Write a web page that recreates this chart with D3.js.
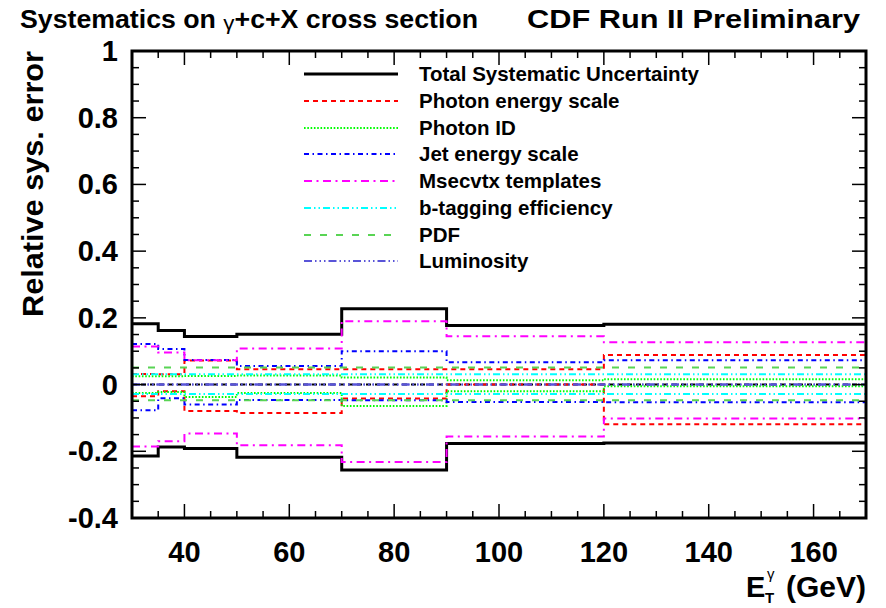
<!DOCTYPE html>
<html><head><meta charset="utf-8">
<script src="https://cdn.jsdelivr.net/npm/d3@7"></script>
<style>body{margin:0;background:#fff}svg{display:block}</style>
</head><body>
<script>
// ---------- data ----------
const binEdges = [30, 35, 40, 50, 70, 90, 120, 170];
const totalUp   = [0.182, 0.162, 0.144, 0.151, 0.227, 0.177, 0.181];
const totalDown = [-0.214, -0.187, -0.192, -0.218, -0.256, -0.177, -0.175];
const energyUp   = [0.032, 0.031, 0.072, 0.046, 0.046, 0.046, 0.089];
const energyDown = [-0.035, -0.020, -0.079, -0.085, -0.042, 0.0, -0.119];
const photonIdUp   = [0.025, 0.025, 0.026, 0.027, 0.021, 0.013, 0.016];
const photonIdDown = [-0.025, -0.022, -0.037, -0.025, -0.064, -0.020, -0.005];
const jetUp   = [0.122, 0.107, 0.074, 0.056, 0.100, 0.067, 0.073];
const jetDown = [-0.077, -0.041, -0.060, -0.046, -0.047, -0.052, -0.053];
const msecUp   = [0.114, 0.096, 0.073, 0.108, 0.190, 0.145, 0.127];
const msecDown = [-0.186, -0.170, -0.147, -0.182, -0.232, -0.156, -0.102];
const btagUp   = [0.031, 0.031, 0.031, 0.031, 0.031, 0.031, 0.031];
const btagDown = [-0.028, -0.028, -0.028, -0.028, -0.028, -0.028, -0.028];
const pdfUp   = [0.051, 0.051, 0.051, 0.051, 0.051, 0.051, 0.051];
const pdfDown = [-0.047, -0.047, -0.047, -0.047, -0.047, -0.047, -0.047];
const lumiUp   = [0, 0, 0, 0, 0, 0, 0];
const lumiDown = [0, 0, 0, 0, 0, 0, 0];
const legendLabels = ["Total Systematic Uncertainty", "Photon energy scale", "Photon ID",
  "Jet energy scale", "Msecvtx templates", "b-tagging efficiency", "PDF", "Luminosity"];
const xTickLabels = [40, 60, 80, 100, 120, 140, 160];
const yTickLabels = [-0.4, -0.2, 0, 0.2, 0.4, 0.6, 0.8, 1];

// ---------- styles ----------
const styles = [
  {up: totalUp, down: totalDown, color: "#000000", dash: null, w: 3},
  {up: energyUp, down: energyDown, color: "#ff0000", dash: "5,4", w: 2},
  {up: photonIdUp, down: photonIdDown, color: "#00ff00", dash: "1.6,1.7", w: 2},
  {up: jetUp, down: jetDown, color: "#0000ff", dash: "5,3.5,1.5,3.5", w: 2},
  {up: msecUp, down: msecDown, color: "#ff00ff", dash: "8,4.5,2,4.5", w: 2},
  {up: btagUp, down: btagDown, color: "#00ffff", dash: "7,3,1.5,3,1.5,3", w: 2},
  {up: pdfUp, down: pdfDown, color: "#59d454", dash: "7,9", w: 2},
  {up: lumiUp, down: lumiDown, color: "#5954d8", dash: "8,3,1.5,3,1.5,3,1.5,3", w: 2}
];

const W = 886, H = 608;
const m = {l: 132, r: 866, t: 51, b: 518};
const svg = d3.select("body").append("svg").attr("width", W).attr("height", H);
const x = d3.scaleLinear().domain([30, 170]).range([m.l, m.r]);
const y = d3.scaleLinear().domain([-0.4, 1]).range([m.b, m.t]);
const font = "'Liberation Sans', Arial, Helvetica, sans-serif";

const line = d3.line().x(d => x(d[0])).y(d => y(d[1])).curve(d3.curveStepAfter);
function pts(vals) { return binEdges.map((e, i) => [e, vals[Math.min(i, vals.length - 1)]]); }

const g = svg.append("g");
// zero dashed line
g.append("path").attr("d", line([[30, 0], [170, 0]])).attr("stroke", "#000").attr("stroke-width", 2)
  .attr("stroke-dasharray", "5,4").attr("fill", "none");

styles.forEach(s => {
  [s.up, s.down].forEach(v => {
    g.append("path").attr("d", line(pts(v))).attr("fill", "none")
      .attr("stroke", s.color).attr("stroke-width", s.w)
      .attr("stroke-dasharray", s.dash);
  });
});

// ---------- axes / frame ----------
const ax = svg.append("g").attr("stroke", "#000").attr("stroke-width", 1.5);
d3.range(30, 171, 5).forEach(v => {
  const L = v % 20 === 0 ? 14 : 7;
  ax.append("line").attr("x1", x(v)).attr("x2", x(v)).attr("y1", m.b).attr("y2", m.b - L);
  ax.append("line").attr("x1", x(v)).attr("x2", x(v)).attr("y1", m.t).attr("y2", m.t + L);
});
d3.range(-0.4, 1.001, 0.05).forEach(v => {
  const major = Math.abs(Math.round(v * 100) % 20) === 0;
  const L = major ? 14 : 7;
  ax.append("line").attr("y1", y(v)).attr("y2", y(v)).attr("x1", m.l).attr("x2", m.l + L);
  ax.append("line").attr("y1", y(v)).attr("y2", y(v)).attr("x1", m.r).attr("x2", m.r - L);
});
svg.append("rect").attr("x", m.l).attr("y", m.t).attr("width", m.r - m.l).attr("height", m.b - m.t)
  .attr("fill", "none").attr("stroke", "#000").attr("stroke-width", 3);

// tick labels
svg.append("g").selectAll("text").data(xTickLabels).join("text")
  .attr("x", d => x(d)).attr("y", 562).attr("text-anchor", "middle")
  .attr("font-family", font).attr("font-weight", "bold").attr("font-size", 29)
  .text(d => d);
svg.append("g").selectAll("text").data(yTickLabels).join("text")
  .attr("x", 118).attr("y", d => y(d) + 10).attr("text-anchor", "end")
  .attr("font-family", font).attr("font-weight", "bold").attr("font-size", 29)
  .text(d => d);

// axis titles
svg.append("text").attr("transform", "translate(43,184) rotate(-90)").attr("text-anchor", "middle")
  .attr("font-family", font).attr("font-weight", "bold").attr("font-size", 29)
  .attr("textLength", 266).attr("lengthAdjust", "spacingAndGlyphs")
  .text("Relative sys. error");
svg.append("text").attr("x", 746).attr("y", 597).attr("font-family", font).attr("font-weight", "bold")
  .attr("font-size", 29).text("E");
svg.append("text").attr("x", 765).attr("y", 603).attr("font-family", font).attr("font-weight", "bold")
  .attr("font-size", 15).text("T");
svg.append("text").attr("x", 767).attr("y", 579).attr("font-family", font)
  .attr("font-size", 15).text("γ");
svg.append("text").attr("x", 866).attr("y", 597).attr("text-anchor", "end").attr("font-family", font)
  .attr("font-weight", "bold").attr("font-size", 29)
  .attr("textLength", 80).attr("lengthAdjust", "spacingAndGlyphs").text("(GeV)");

// title
const t = svg.append("text").attr("x", 20).attr("y", 28).attr("font-family", font)
  .attr("font-weight", "bold").attr("font-size", 25)
  .attr("textLength", 458).attr("lengthAdjust", "spacingAndGlyphs");
t.append("tspan").text("Systematics on ");
t.append("tspan").attr("font-weight", "normal").attr("font-size", 21).attr("dy", 2).text("γ");
t.append("tspan").attr("dy", -2).text("+c+X cross section");
svg.append("text").attr("x", 860).attr("y", 28).attr("text-anchor", "end").attr("font-family", font)
  .attr("font-weight", "bold").attr("font-size", 25)
  .attr("textLength", 333).attr("lengthAdjust", "spacingAndGlyphs").text("CDF Run II Preliminary");

// legend
const legRows = [74, 101, 128, 154, 181, 208, 235, 261];
styles.forEach((s, i) => {
  svg.append("line").attr("x1", 304).attr("x2", 398).attr("y1", legRows[i]).attr("y2", legRows[i])
    .attr("stroke", s.color).attr("stroke-width", s.w).attr("stroke-dasharray", s.dash);
  svg.append("text").attr("x", 419).attr("y", legRows[i] + 7).attr("font-family", font)
    .attr("font-weight", "bold").attr("font-size", 20.5).text(legendLabels[i]);
});
</script>
</body></html>
